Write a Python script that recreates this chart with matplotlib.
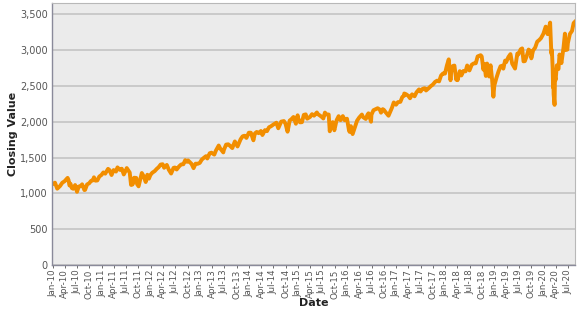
import matplotlib
matplotlib.use("Agg")
import matplotlib.pyplot as plt
import matplotlib.dates as mdates
import matplotlib.ticker as mticker
import pandas as pd

dates = [
 "2010-01-04","2010-01-19","2010-02-05","2010-02-26","2010-03-15","2010-03-31","2010-04-23","2010-04-30",
 "2010-05-07","2010-05-14","2010-05-25","2010-06-04","2010-06-18","2010-06-30","2010-07-02","2010-07-15",
 "2010-07-30","2010-08-09","2010-08-26","2010-08-31","2010-09-15","2010-09-30","2010-10-15","2010-10-29",
 "2010-11-05","2010-11-16","2010-11-30","2010-12-15","2010-12-31",
 "2011-01-14","2011-01-28","2011-02-18","2011-02-28","2011-03-16","2011-03-31","2011-04-18","2011-04-29",
 "2011-05-16","2011-05-31","2011-06-15","2011-06-30","2011-07-07","2011-07-29","2011-08-08","2011-08-15",
 "2011-08-19","2011-08-31","2011-09-16","2011-09-22","2011-10-03","2011-10-27","2011-11-10","2011-11-25",
 "2011-12-07","2011-12-19","2011-12-30",
 "2012-01-13","2012-01-31","2012-02-15","2012-02-29","2012-03-15","2012-03-30","2012-04-10","2012-04-30",
 "2012-05-15","2012-06-01","2012-06-19","2012-06-29","2012-07-12","2012-07-31","2012-08-15","2012-08-31",
 "2012-09-14","2012-09-28","2012-10-05","2012-10-31","2012-11-15","2012-11-30","2012-12-14","2012-12-31",
 "2013-01-15","2013-01-31","2013-02-15","2013-02-25","2013-03-15","2013-03-28","2013-04-18","2013-04-30",
 "2013-05-21","2013-05-31","2013-06-24","2013-06-28","2013-07-15","2013-07-31","2013-08-15","2013-08-30",
 "2013-09-18","2013-09-30","2013-10-08","2013-10-31","2013-11-15","2013-11-29","2013-12-13","2013-12-31",
 "2014-01-15","2014-02-03","2014-02-14","2014-02-28","2014-03-14","2014-03-31","2014-04-11","2014-04-30",
 "2014-05-15","2014-05-30","2014-06-13","2014-06-30","2014-07-24","2014-08-07","2014-08-29","2014-09-18",
 "2014-09-30","2014-10-15","2014-10-31","2014-11-14","2014-11-28","2014-12-16","2014-12-29","2014-12-31",
 "2015-01-15","2015-01-30","2015-02-13","2015-02-27","2015-03-10","2015-03-31","2015-04-15","2015-04-30",
 "2015-05-21","2015-05-29","2015-06-15","2015-06-30","2015-07-08","2015-07-20","2015-07-31","2015-08-17",
 "2015-08-25","2015-08-31","2015-09-16","2015-09-28","2015-10-15","2015-10-30","2015-11-13","2015-11-30",
 "2015-12-14","2015-12-31",
 "2016-01-15","2016-01-20","2016-01-29","2016-02-11","2016-02-29","2016-03-15","2016-03-31","2016-04-20",
 "2016-04-29","2016-05-19","2016-05-31","2016-06-08","2016-06-27","2016-06-30","2016-07-15","2016-07-29",
 "2016-08-15","2016-08-31","2016-09-09","2016-09-22","2016-09-30","2016-10-14","2016-11-04","2016-11-30",
 "2016-12-13","2016-12-30",
 "2017-01-13","2017-01-31","2017-02-15","2017-02-28","2017-03-01","2017-03-15","2017-03-31","2017-04-13",
 "2017-04-28","2017-05-17","2017-05-31","2017-06-19","2017-06-30","2017-07-14","2017-07-31","2017-08-10",
 "2017-08-31","2017-09-15","2017-09-29","2017-10-16","2017-10-31","2017-11-15","2017-11-30","2017-12-15",
 "2017-12-29",
 "2018-01-12","2018-01-26","2018-02-08","2018-02-15","2018-02-26","2018-03-09","2018-03-23","2018-03-29",
 "2018-04-02","2018-04-18","2018-04-30","2018-05-15","2018-05-31","2018-06-12","2018-06-29","2018-07-16",
 "2018-07-31","2018-08-15","2018-08-29","2018-09-20","2018-09-28","2018-10-11","2018-10-17","2018-10-29",
 "2018-11-07","2018-11-23","2018-11-30","2018-12-03","2018-12-14","2018-12-24","2018-12-31",
 "2019-01-15","2019-01-31","2019-02-15","2019-02-28","2019-03-08","2019-03-21","2019-03-29","2019-04-15",
 "2019-04-30","2019-05-13","2019-05-31","2019-06-03","2019-06-20","2019-06-28","2019-07-15","2019-07-26",
 "2019-08-05","2019-08-15","2019-08-30","2019-09-12","2019-09-30","2019-10-02","2019-10-15","2019-10-31",
 "2019-11-15","2019-11-29","2019-12-13","2019-12-31",
 "2020-01-17","2020-01-31","2020-02-19","2020-02-28","2020-03-03","2020-03-09","2020-03-12","2020-03-13",
 "2020-03-16","2020-03-23","2020-03-26","2020-03-31","2020-04-09","2020-04-21","2020-04-29","2020-05-13",
 "2020-05-29","2020-06-08","2020-06-11","2020-06-26","2020-06-30","2020-07-15","2020-07-31","2020-08-12",
 "2020-08-21",
]

closing_values = [
 1133,1150,1066,1104,1150,1169,1217,1187,
 1111,1136,1074,1065,1117,1031,1022,1096,
 1102,1127,1047,1049,1125,1141,1176,1183,
 1225,1178,1181,1236,1258,
 1293,1276,1343,1327,1257,1326,1305,1364,
 1329,1345,1265,1321,1354,1292,1119,1204,
 1124,1219,1216,1129,1099,1285,1240,1159,
 1261,1206,1258,
 1289,1312,1343,1366,1403,1408,1358,1398,
 1330,1278,1357,1362,1334,1379,1405,1407,
 1465,1441,1461,1412,1353,1416,1413,1426,
 1472,1498,1520,1488,1561,1569,1542,1598,
 1669,1631,1573,1606,1682,1686,1661,1633,
 1726,1682,1656,1757,1798,1806,1775,1848,
 1848,1742,1838,1859,1841,1872,1816,1884,
 1870,1924,1937,1960,1988,1910,2003,2011,
 1972,1862,2018,2039,2068,1973,2091,2059,
 1993,1995,2097,2104,2044,2068,2107,2086,
 2131,2107,2085,2063,2047,2129,2104,2102,
 1868,1972,1996,1882,2023,2079,2023,2080,
 2022,2044,
 1880,1859,1940,1829,1932,2016,2060,2102,
 2065,2040,2097,2119,2001,2099,2162,2174,
 2190,2171,2128,2177,2168,2133,2085,2199,
 2271,2239,
 2275,2279,2349,2364,2396,2385,2363,2329,
 2384,2357,2412,2453,2423,2459,2470,2438,
 2472,2500,2519,2557,2575,2565,2648,2676,
 2674,
 2786,2873,2581,2731,2780,2786,2588,2641,
 2582,2708,2648,2711,2705,2787,2718,2798,
 2816,2818,2914,2931,2914,2729,2809,2641,
 2814,2633,2760,2790,2600,2351,2507,
 2610,2704,2776,2784,2743,2855,2834,2906,
 2946,2812,2752,2744,2954,2942,3014,3026,
 2845,2848,2926,3010,2977,2887,2996,3038,
 3120,3141,3169,3231,
 3330,3225,3386,2954,3003,2747,2481,2711,
 2386,2237,2630,2585,2790,2737,2940,2820,
 3044,3232,3002,3009,3100,3227,3271,3380,
 3397,
]

x = pd.to_datetime(dates)

fig = plt.figure(figsize=(5.8, 3.12), dpi=100)
ax = fig.add_axes([52/580, 47/312, (575-52)/580, (265-3)/312])
ax.set_facecolor("#ebebeb")
ax.plot(x, closing_values, color="#f28e00", lw=2.8, solid_joinstyle="round")

ax.set_ylim(0, 3660)
ax.set_xlim(pd.Timestamp("2009-12-28"), pd.Timestamp("2020-08-22"))
ax.yaxis.set_major_locator(mticker.MultipleLocator(500))
ax.yaxis.set_major_formatter(mticker.FuncFormatter(lambda v, p: f"{int(v):,}"))
ax.xaxis.set_major_locator(mdates.MonthLocator(bymonth=[1, 4, 7, 10]))
ax.xaxis.set_major_formatter(mdates.DateFormatter("%b-%y"))
for lab in ax.get_xticklabels():
    lab.set_rotation(90)

ax.grid(axis="y", color="#c4c4c4", lw=1.2)
ax.set_axisbelow(True)
ax.tick_params(axis="x", labelsize=6.3, colors="#555555", length=2, width=0.6, pad=1)
ax.tick_params(axis="y", labelsize=7, colors="#555555", length=0, pad=3)
for side in ["left", "bottom"]:
    ax.spines[side].set_color("#8a8a9a")
    ax.spines[side].set_linewidth(1.0)
for side in ["top", "right"]:
    ax.spines[side].set_color("#b8b8b8")
    ax.spines[side].set_linewidth(0.8)

ax.set_xlabel("Date", fontsize=8, fontweight="bold", color="#222222", va="center")
ax.xaxis.set_label_coords(0.5, (265 - 303) / 262)
ax.set_ylabel("Closing Value", fontsize=8, fontweight="bold", color="#222222", va="center")
ax.yaxis.set_label_coords((13 - 52) / 523, 0.5)

fig.savefig("out.png", dpi=100)
